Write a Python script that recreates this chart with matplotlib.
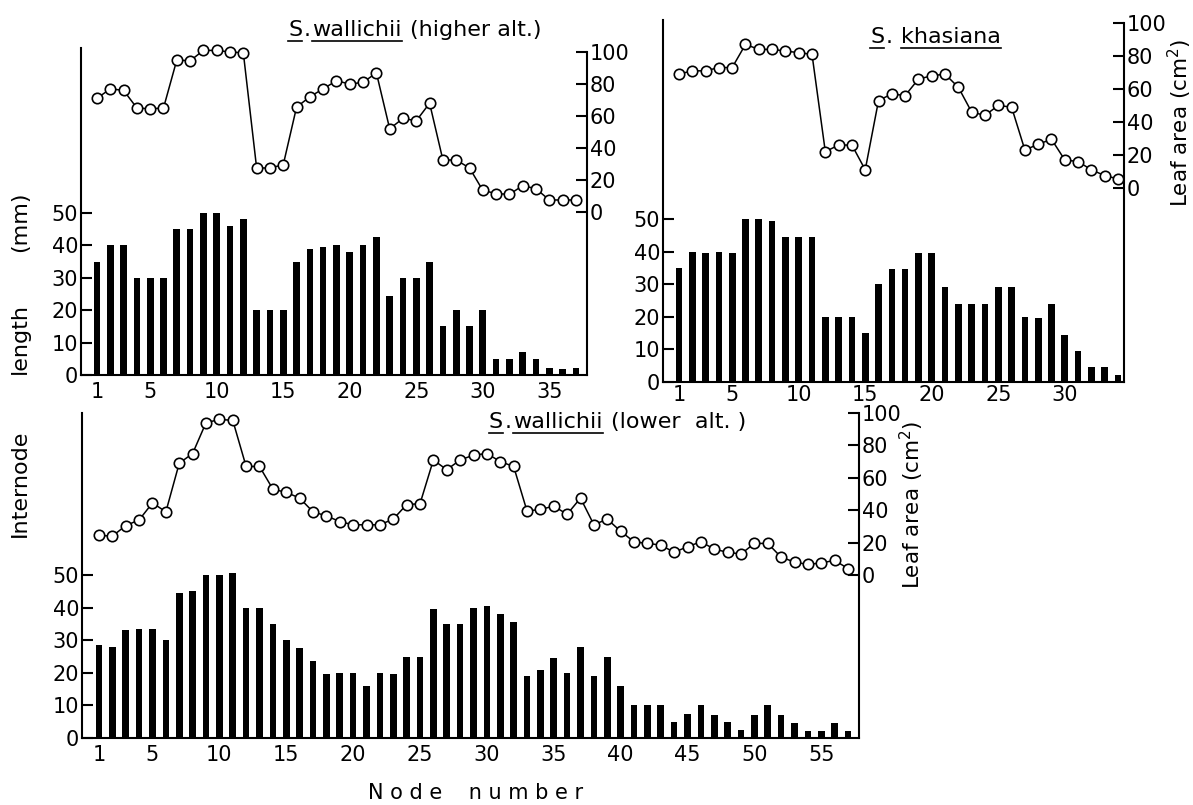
import matplotlib
matplotlib.use("Agg")
import matplotlib.pyplot as plt
from matplotlib.lines import Line2D
import numpy as np

# internode length (mm) and leaf area (cm2) per node
bars_high = [35, 40, 40, 30, 30, 30, 45, 45, 50, 50, 46, 48, 20, 20, 20, 35, 39, 39.5,
             40, 38, 40, 42.5, 24.5, 30, 30, 35, 15, 20, 15, 20, 5, 5, 7, 5, 2.3, 2, 2.3]
leaf_high = [71, 77, 76, 65, 64.5, 65, 95, 94.5, 101, 101, 100, 99.5, 27.5, 27.5, 29.5,
             65.5, 72, 77, 82, 80, 81, 87, 52, 58.5, 57, 68, 32.5, 32.5, 27.5, 13.5,
             11.5, 11, 16.5, 14.5, 7.5, 7.5, 7.5]

bars_khas = [35, 40, 39.5, 40, 39.5, 50, 50, 49.5, 44.5, 44.5, 44.5, 20, 20, 20, 15, 30,
             34.5, 34.5, 39.5, 39.5, 29, 24, 24, 24, 29, 29, 20, 19.5, 24, 14.5, 9.5,
             4.5, 4.5, 2]
leaf_khas = [69, 71, 71, 73, 73, 87, 84, 84, 83, 82, 81, 22, 26, 26, 11, 53, 57, 56, 66,
             68, 69, 61, 46, 44, 50, 49, 23, 26.5, 29.5, 17, 16, 11, 7.5, 5.5]

bars_low = [28.5, 28, 33, 33.5, 33.5, 30, 44.5, 45, 50, 50, 50.5, 40, 40, 35, 30, 27.5,
            23.5, 19.5, 20, 20, 16, 20, 19.5, 25, 25, 39.5, 35, 35, 40, 40.5, 38, 35.5,
            19, 21, 24.5, 20, 28, 19, 25, 16, 10, 10, 10, 5, 7.5, 10, 7, 5, 2.5, 7, 10,
            7, 4.7, 2, 2.2, 4.7, 2]
leaf_low = [24.5, 24, 30.5, 34, 44.5, 39, 69, 75, 94, 96, 95.5, 67, 67, 53, 51, 47.5, 39,
            36.5, 33, 31, 31, 31, 34.5, 43.5, 44, 71, 65, 71, 74, 75, 70, 67, 39.5, 40.5,
            42.5, 37.5, 47.5, 31, 34.5, 27, 20.5, 19.5, 18.5, 14, 17.5, 20.5, 16, 14, 13,
            19.5, 19.5, 11, 8, 6.5, 7.5, 9, 4]

xt_high = [1, 5, 10, 15, 20, 25, 30, 35]
xt_khas = [1, 5, 10, 15, 20, 25, 30]
xt_low = [1, 5, 10, 15, 20, 25, 30, 35, 40, 45, 50, 55]

W, H = 1193, 805
fig = plt.figure(figsize=(W / 100, H / 100), dpi=100)
plt.rcParams["font.family"] = ["DejaVu Sans"]
FS = 15


def panel(box, bars, leaf, xlim, bar_top, leaf_lim, xticks, xpad=5):
    left, top, right, bottom = box
    ax = fig.add_axes([left / W, 1 - bottom / H, (right - left) / W, (bottom - top) / H])
    nodes = np.arange(1, len(bars) + 1)
    ax.bar(nodes, bars, width=0.5, color="black")
    ax.set_xlim(*xlim)
    ax.set_ylim(0, bar_top)
    ax.spines[["top", "right"]].set_visible(False)
    for s in ("left", "bottom"):
        ax.spines[s].set_linewidth(1.5)
    ax.set_yticks(range(0, 51, 10))
    ax.tick_params(axis="y", direction="in", length=8, width=1.5, pad=2, labelsize=FS)
    ax.set_xticks(xticks)
    ax.tick_params(axis="x", length=0, pad=xpad, labelsize=FS)

    ax2 = ax.twinx()
    ax2.plot(np.arange(1, len(leaf) + 1), leaf, "-o", color="black", lw=1.1, ms=7.5,
             mfc="white", mew=1.2, clip_on=False)
    ax2.set_ylim(*leaf_lim)
    ax2.spines[["top", "left", "bottom"]].set_visible(False)
    ax2.spines["right"].set_linewidth(1.5)
    ax2.spines["right"].set_bounds(leaf_lim[0], 100)
    ax2.set_yticks(range(0, 101, 20))
    ax2.tick_params(axis="y", direction="in", length=8, width=1.5, pad=2, labelsize=FS)
    return ax, ax2


panel((81, 48, 587, 375), bars_high, leaf_high, (-0.2, 37.83), 100.9, (-101.9, 102.5), xt_high)
panel((663, 20, 1124, 382), bars_khas, leaf_khas, (-0.2, 34.45), 111, (-117.6, 101.8), xt_khas,
      xpad=2)
panel((82, 413, 859, 738), bars_low, leaf_low, (-0.27, 57.82), 99.7, (-100.6, 100), xt_low)

renderer = fig.canvas.get_renderer()


def title(x, base_y, parts, size=16):
    # draw the title piece by piece so the species name can be underlined
    cur = x
    for s, ul in parts:
        if s.startswith(" "):
            cur += size * 100 / 72 * 0.32
            s = s.lstrip()
        t = fig.text(cur / W, 1 - base_y / H, s, fontsize=size, ha="left", va="baseline")
        bb = t.get_window_extent(renderer)
        if ul:
            yu = 1 - (base_y + 5) / H
            fig.add_artist(Line2D([bb.x0 / W, bb.x1 / W], [yu, yu], color="black", lw=1.2,
                                  transform=fig.transFigure))
        cur = bb.x1 + 1.5


title(288, 36, [("S", True), (".", False), ("wallichii", True), (" (higher alt.)", False)])
title(870, 43, [("S", True), (".", False), (" khasiana", True)])
title(489, 428, [("S", True), (".", False), ("wallichii", True), (" (lower  alt. )", False)])

fig.text(1180 / W, 1 - 123 / H, "Leaf area (cm$^2$)", rotation=90, fontsize=15.5,
         ha="center", va="center")
fig.text(912 / W, 1 - 505 / H, "Leaf area (cm$^2$)", rotation=90, fontsize=15.5,
         ha="center", va="center")

fig.text(20 / W, 1 - 483 / H, "Internode", rotation=90, fontsize=16, ha="center", va="center")
fig.text(20 / W, 1 - 338 / H, "length", rotation=90, fontsize=16, ha="center", va="center")
fig.text(20 / W, 1 - 222 / H, "(mm)", rotation=90, fontsize=16, ha="center", va="center")

fig.text(476 / W, 1 - 793 / H, "N o d e    n u m b e r", fontsize=15, ha="center", va="center")

fig.savefig("out.png", dpi=100)
